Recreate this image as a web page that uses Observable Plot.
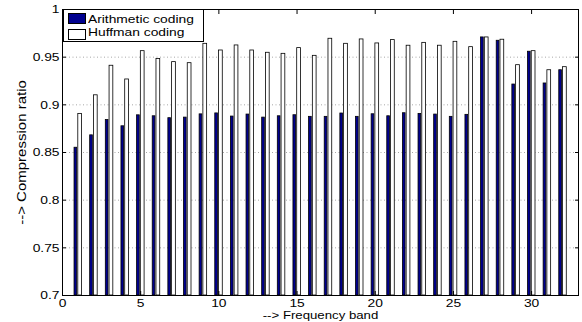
<!DOCTYPE html>
<html><head><meta charset="utf-8">
<script src="https://cdn.jsdelivr.net/npm/d3@7"></script>
<script src="https://cdn.jsdelivr.net/npm/@observablehq/plot@0.6"></script>
<style>
body{margin:0;background:#fff;}
#wrap{position:relative;width:582px;height:322px;font-family:"Liberation Sans",Arial,sans-serif;}
.lg{position:absolute;box-sizing:border-box;}
.lgtext{position:absolute;font-size:11.5px;line-height:11.5px;white-space:nowrap;transform:scaleX(1.2);transform-origin:0 0;color:#000;}
</style></head>
<body><div id="wrap"></div>
<script>
const bands = [1,2,3,4,5,6,7,8,9,10,11,12,13,14,15,16,17,18,19,20,21,22,23,24,25,26,27,28,29,30,31,32];
const arithmetic = [0.855,0.868,0.884,0.8775,0.889,0.888,0.886,0.8866,0.890,0.891,0.8877,0.8898,0.8866,0.888,0.8891,0.8874,0.8874,0.8909,0.8874,0.8901,0.888,0.8912,0.8905,0.8898,0.8874,0.8895,0.9707,0.9672,0.9213,0.9557,0.9224,0.9363];
const huffman = [0.8905,0.910,0.941,0.9266,0.9563,0.948,0.9448,0.9437,0.964,0.957,0.9623,0.957,0.9546,0.9535,0.9595,0.9514,0.9693,0.964,0.9686,0.9644,0.9679,0.962,0.965,0.962,0.9661,0.9605,0.9707,0.9683,0.9416,0.9563,0.9363,0.9395];
const seriesNames = ["Arithmetic coding","Huffman coding"];
const seriesColors = ["#00008f","#ffffff"];
const xTicks = [0,5,10,15,20,25,30];
const yTicks = [0.7,0.75,0.8,0.85,0.9,0.95,1];
const xDomain = [0,33];
const xLabel = "--> Frequency band";
const yLabel = "--> Compression ratio";

const rows = bands.map((b,i)=>({band:b, arith:arithmetic[i], huff:huffman[i]}));
const base = () => yTicks[0];
const fmt = d => String(+d.toFixed(2));
const noText = () => "";

const plot = Plot.plot({
  width:582, height:322,
  marginLeft:62, marginRight:4, marginTop:9, marginBottom:27,
  style:{fontFamily:"Liberation Sans, Arial, sans-serif", fontSize:"11.5px", background:"#fff", color:"#000", overflow:"visible"},
  x:{domain:xDomain},
  y:{domain:[yTicks[0], yTicks[yTicks.length-1]]},
  marks:[
    Plot.gridY(yTicks.slice(1,-1), {stroke:"#a8a8a8", strokeOpacity:1, strokeDasharray:"1,2.5"}),
    Plot.rect(rows, {x1:d=>d.band-0.23, x2:d=>d.band-0.06, y1:base, y2:"arith", fill:seriesColors[0], stroke:"#000", strokeWidth:0.8}),
    Plot.rect(rows, {x1:d=>d.band+0.01, x2:d=>d.band+0.25, y1:base, y2:"huff", fill:seriesColors[1], stroke:"#000", strokeWidth:0.8}),
    Plot.frame({stroke:"#000", strokeWidth:1}),
    Plot.axisX(xTicks, {anchor:"bottom", tickSize:0, tickPadding:3, tickFormat:d=>String(d), label:null}),
    Plot.axisY(yTicks, {anchor:"left", tickSize:0, tickPadding:3, tickFormat:fmt, label:null}),
    Plot.axisX(xTicks, {anchor:"bottom", tickSize:4, dy:-4, tickFormat:noText, label:null}),
    Plot.axisX(xTicks, {anchor:"top", tickSize:4, dy:4, tickFormat:noText, label:null}),
    Plot.axisY(yTicks, {anchor:"left", tickSize:4, dx:4, tickFormat:noText, label:null}),
    Plot.axisY(yTicks, {anchor:"right", tickSize:4, dx:-4, tickFormat:noText, label:null}),
    Plot.text([xLabel], {frameAnchor:"bottom", lineAnchor:"top", dy:15.5, text:d=>d, fontSize:11, fill:"#000"}),
    Plot.text([yLabel], {frameAnchor:"left", rotate:-90, dx:-41, textAnchor:"middle", lineAnchor:"middle", text:d=>d, fontSize:12.5, fill:"#000", ariaLabel:"ylabel"})
  ]
});
const wrap = document.getElementById("wrap");
wrap.appendChild(plot);
plot.querySelectorAll("text").forEach(t => {
  if (t.closest('[aria-label="ylabel"]')) return;
  if (!t.textContent) return;
  const len = t.getComputedTextLength();
  t.setAttribute("textLength", (len*1.2).toFixed(2));
  t.setAttribute("lengthAdjust", "spacingAndGlyphs");
});

// legend
function add(cls, style, text){ const d=document.createElement("div"); d.className=cls; Object.assign(d.style, style); if(text) d.textContent=text; wrap.appendChild(d); return d; }
add("lg", {left:"63px", top:"9px", width:"141px", height:"33px", border:"1px solid #000", background:"#fff"});
add("lg", {left:"68px", top:"13px", width:"18px", height:"11px", border:"1px solid #000", background:seriesColors[0]});
add("lg", {left:"68px", top:"28.5px", width:"18px", height:"11px", border:"1px solid #000", background:seriesColors[1]});
add("lgtext", {left:"88px", top:"13.8px"}, seriesNames[0]);
add("lgtext", {left:"88px", top:"26.5px"}, seriesNames[1]);
</script>
</body></html>
